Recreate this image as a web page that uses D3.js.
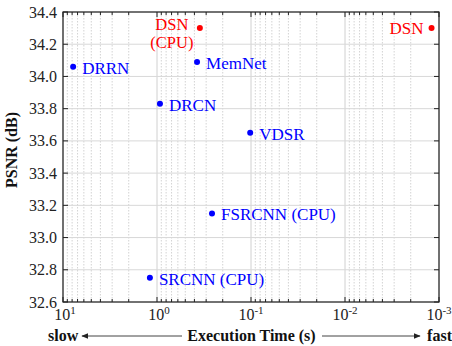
<!DOCTYPE html>
<html>
<head>
<meta charset="utf-8">
<script src="https://cdn.jsdelivr.net/npm/d3@7"></script>
<style>
  body { margin: 0; background: #fff; }
  svg { font-family: "Liberation Serif", "Times New Roman", serif; }
</style>
</head>
<body>
<div id="chart"></div>
<script>
// datos del gráfico
var methods = ["DRRN", "DSN\n(CPU)", "MemNet", "DRCN", "VDSR", "DSN", "FSRCNN (CPU)", "SRCNN (CPU)"];
var times = [7.8, 0.35, 0.375, 0.93, 0.102, 0.0012, 0.26, 1.19];
var psnr = [34.06, 34.30, 34.09, 33.83, 33.65, 34.30, 33.15, 32.75];
var colors = ["blue", "red", "blue", "blue", "blue", "red", "blue", "blue"];
var xDomain = [10, 0.001];
var yDomain = [32.6, 34.4];
var yTicks = [32.6, 32.8, 33.0, 33.2, 33.4, 33.6, 33.8, 34.0, 34.2, 34.4];
var xTickExp = [1, 0, -1, -2, -3];

var width = 452, height = 346;
var margin = { top: 12, right: 13, bottom: 44, left: 63 };
var plotW = width - margin.left - margin.right;
var plotH = height - margin.top - margin.bottom;

var svg = d3.select("#chart").append("svg")
    .attr("width", width)
    .attr("height", height);

var g = svg.append("g")
    .attr("transform", "translate(" + margin.left + "," + margin.top + ")");

var x = d3.scaleLog().domain(xDomain).range([0, plotW]);
var y = d3.scaleLinear().domain(yDomain).range([plotH, 0]);

// rejilla vertical: menores punteadas, mayores sólidas
var minor = [];
for (var e = -3; e < 1; e++) {
    for (var m = 2; m <= 9; m++) minor.push(m * Math.pow(10, e));
}
g.selectAll("line.minor")
    .data(minor)
    .enter().append("line")
    .attr("class", "minor")
    .attr("x1", d => x(d)).attr("x2", d => x(d))
    .attr("y1", 0).attr("y2", plotH)
    .attr("stroke", "#c8c8c8")
    .attr("stroke-width", 0.8)
    .attr("stroke-dasharray", "1.5,1.5");

g.selectAll("line.major")
    .data(xTickExp)
    .enter().append("line")
    .attr("class", "major")
    .attr("x1", d => x(Math.pow(10, d))).attr("x2", d => x(Math.pow(10, d)))
    .attr("y1", 0).attr("y2", plotH)
    .attr("stroke", "#d0d0d0")
    .attr("stroke-width", 1);

// rejilla horizontal
g.selectAll("line.hgrid")
    .data(yTicks)
    .enter().append("line")
    .attr("class", "hgrid")
    .attr("x1", 0).attr("x2", plotW)
    .attr("y1", d => y(d)).attr("y2", d => y(d))
    .attr("stroke", "#d8d8d8")
    .attr("stroke-width", 1);

// marcas hacia dentro en los cuatro lados
var majorX = xTickExp.map(d => Math.pow(10, d));
g.selectAll("line.xtb")
    .data(minor).enter().append("line")
    .attr("x1", d => x(d)).attr("x2", d => x(d))
    .attr("y1", plotH).attr("y2", plotH - 3)
    .attr("stroke", "#222");
g.selectAll("line.xtt")
    .data(minor).enter().append("line")
    .attr("x1", d => x(d)).attr("x2", d => x(d))
    .attr("y1", 0).attr("y2", 3)
    .attr("stroke", "#222");
g.selectAll("line.xtbM")
    .data(majorX).enter().append("line")
    .attr("x1", d => x(d)).attr("x2", d => x(d))
    .attr("y1", plotH).attr("y2", plotH - 5)
    .attr("stroke", "#222");
g.selectAll("line.xttM")
    .data(majorX).enter().append("line")
    .attr("x1", d => x(d)).attr("x2", d => x(d))
    .attr("y1", 0).attr("y2", 5)
    .attr("stroke", "#222");
g.selectAll("line.ytl")
    .data(yTicks).enter().append("line")
    .attr("x1", 0).attr("x2", 5)
    .attr("y1", d => y(d)).attr("y2", d => y(d))
    .attr("stroke", "#222");
g.selectAll("line.ytr")
    .data(yTicks).enter().append("line")
    .attr("x1", plotW).attr("x2", plotW - 5)
    .attr("y1", d => y(d)).attr("y2", d => y(d))
    .attr("stroke", "#222");

// marco
g.append("rect")
    .attr("x", 0).attr("y", 0)
    .attr("width", plotW).attr("height", plotH)
    .attr("fill", "none")
    .attr("stroke", "#222")
    .attr("stroke-width", 1.2);

// etiquetas del eje y
g.selectAll("text.ylab")
    .data(yTicks)
    .enter().append("text")
    .attr("x", -6)
    .attr("y", d => y(d))
    .attr("dy", "0.35em")
    .attr("text-anchor", "end")
    .attr("font-size", "16px")
    .attr("fill", "#222")
    .text(d => d.toFixed(1));

// etiquetas del eje x con exponente
var xl = g.selectAll("text.xlab")
    .data(xTickExp)
    .enter().append("text")
    .attr("x", d => x(Math.pow(10, d)) + (d < 0 ? 0 : 2))
    .attr("y", plotH + 18)
    .attr("text-anchor", "middle")
    .attr("font-size", "16px")
    .attr("fill", "#222");
xl.append("tspan").text("10");
xl.append("tspan").attr("font-size", "11px").attr("dy", "-6").text(d => d);

// títulos
g.append("text")
    .attr("transform", "translate(-46," + (plotH / 2 - 7) + ") rotate(-90)")
    .attr("text-anchor", "middle")
    .attr("font-size", "16px")
    .attr("font-weight", "bold")
    .attr("fill", "#111")
    .text("PSNR (dB)");

var ty = plotH + 39;
g.append("text")
    .attr("x", 188.5)
    .attr("y", ty)
    .attr("text-anchor", "middle")
    .attr("font-size", "16px")
    .attr("font-weight", "bold")
    .attr("fill", "#111")
    .text("Execution Time (s)");
g.append("text")
    .attr("x", -15).attr("y", ty)
    .attr("font-size", "16px").attr("font-weight", "bold").attr("fill", "#111")
    .text("slow");
g.append("text")
    .attr("x", plotW + 13).attr("y", ty)
    .attr("text-anchor", "end")
    .attr("font-size", "16px").attr("font-weight", "bold").attr("fill", "#111")
    .text("fast");

// flechas
svg.append("defs").append("marker")
    .attr("id", "arrow")
    .attr("viewBox", "0 0 10 10")
    .attr("refX", 9).attr("refY", 5)
    .attr("markerWidth", 7).attr("markerHeight", 7)
    .attr("orient", "auto-start-reverse")
    .append("path").attr("d", "M0,1L10,5L0,9Z").attr("fill", "#222");
g.append("line")
    .attr("x1", 119).attr("x2", 19)
    .attr("y1", ty - 5).attr("y2", ty - 5)
    .attr("stroke", "#444").attr("stroke-width", 1)
    .attr("marker-end", "url(#arrow)");
g.append("line")
    .attr("x1", 259).attr("x2", 357)
    .attr("y1", ty - 5).attr("y2", ty - 5)
    .attr("stroke", "#444").attr("stroke-width", 1)
    .attr("marker-end", "url(#arrow)");

// puntos
var pts = methods.map((m, i) => ({ name: m, t: times[i], p: psnr[i], c: colors[i] }));
g.selectAll("circle.pt")
    .data(pts)
    .enter().append("circle")
    .attr("cx", d => x(d.t))
    .attr("cy", d => y(d.p))
    .attr("r", 3)
    .attr("fill", d => d.c);

// etiquetas de los puntos
pts.forEach(function (d) {
    var px = x(d.t), py = y(d.p);
    if (d.name === "DSN\n(CPU)") {
        // dos líneas centradas a la izquierda del punto
        g.append("text")
            .attr("x", px - 28).attr("y", py - 4)
            .attr("dy", "0.35em")
            .attr("text-anchor", "middle")
            .attr("font-size", "16.5px")
            .attr("fill", d.c)
            .text("DSN");
        g.append("text")
            .attr("x", px - 28).attr("y", py + 14)
            .attr("dy", "0.35em")
            .attr("text-anchor", "middle")
            .attr("font-size", "16.5px")
            .attr("fill", d.c)
            .text("(CPU)");
    } else if (d.name === "DSN") {
        g.append("text")
            .attr("x", px - 8).attr("y", py)
            .attr("dy", "0.35em")
            .attr("text-anchor", "end")
            .attr("font-size", "17px")
            .attr("fill", d.c)
            .text(d.name);
    } else {
        g.append("text")
            .attr("x", px + 9).attr("y", py + 1)
            .attr("dy", "0.35em")
            .attr("font-size", "17px")
            .attr("fill", d.c)
            .text(d.name);
    }
});
</script>
</body>
</html>
